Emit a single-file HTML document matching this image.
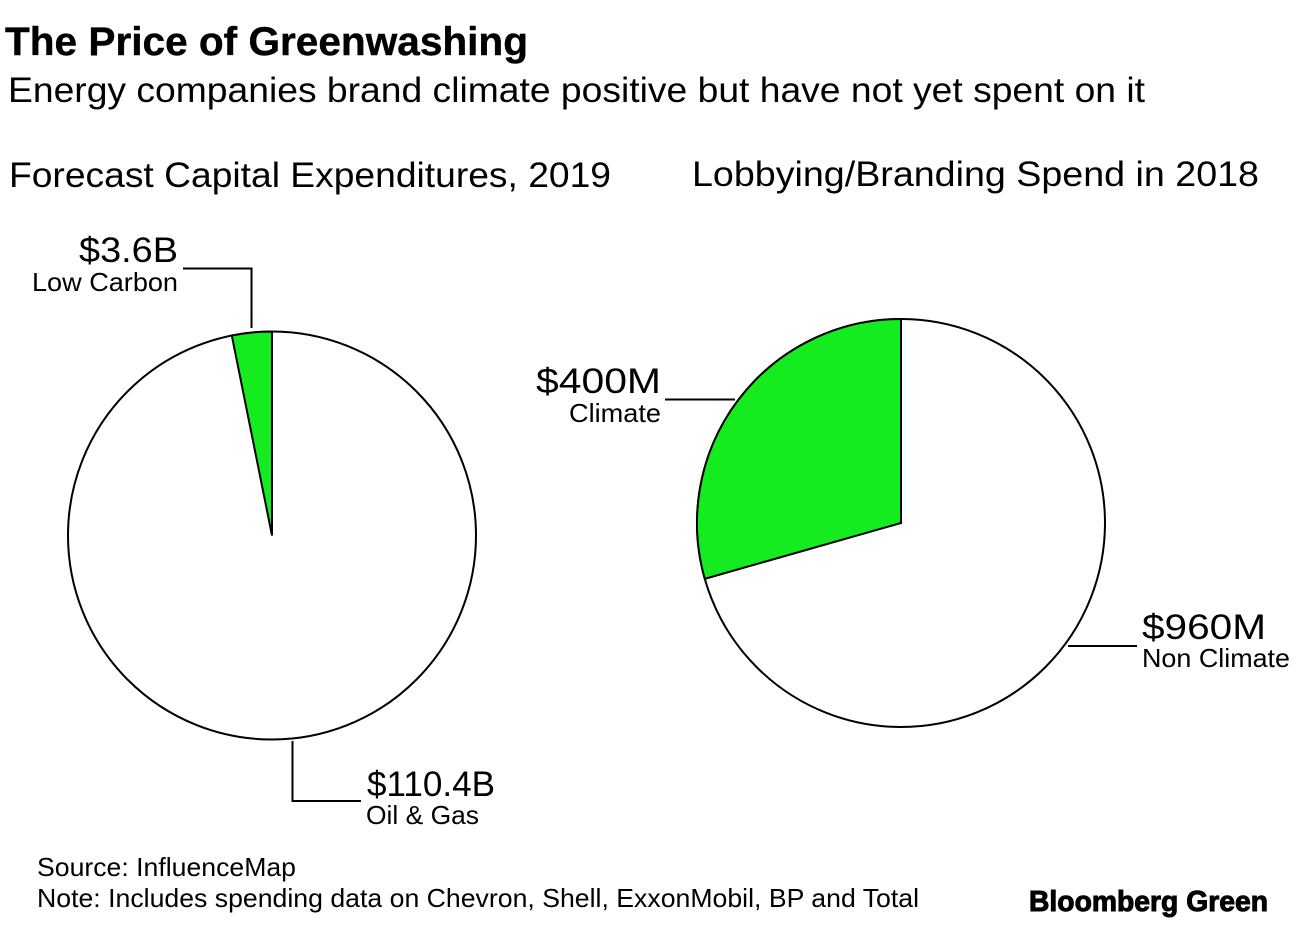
<!DOCTYPE html>
<html lang="en">
<head>
<meta charset="utf-8">
<title>The Price of Greenwashing</title>
<style>
html,body{margin:0;padding:0;background:#fff}
svg{display:block}
text{font-family:"Liberation Sans",Arial,sans-serif;fill:#000}
</style>
</head>
<body>
<svg id="chart" width="1297" height="925" viewBox="0 0 1297 925" xmlns="http://www.w3.org/2000/svg">
  <rect x="0" y="0" width="1297" height="925" fill="#fff"/>
  <text x="5" y="55" font-size="40" font-weight="700" stroke="#000" stroke-width="0.4" textLength="523" lengthAdjust="spacingAndGlyphs">The Price of Greenwashing</text>
  <text x="8" y="102" font-size="35" textLength="1137" lengthAdjust="spacingAndGlyphs">Energy companies brand climate positive but have not yet spent on it</text>
  <text x="9" y="187" font-size="35" textLength="602" lengthAdjust="spacingAndGlyphs">Forecast Capital Expenditures, 2019</text>
  <text x="692" y="186" font-size="35" textLength="567" lengthAdjust="spacingAndGlyphs">Lobbying/Branding Spend in 2018</text>

  <g id="capex-pie"></g>
  <g id="lobbying-pie"></g>

  <polyline points="183,268.500 251.500,268.500 251.500,328" fill="none" stroke="#000" stroke-width="2"/>
  <polyline points="292.500,741 292.500,801 361,801" fill="none" stroke="#000" stroke-width="2"/>
  <line x1="665" y1="399.500" x2="735" y2="399.500" stroke="#000" stroke-width="2"/>
  <line x1="1068" y1="646" x2="1137" y2="646" stroke="#000" stroke-width="2"/>

  <text id="capex-low-value" x="178" y="262" font-size="35" text-anchor="end" textLength="99" lengthAdjust="spacingAndGlyphs"></text>
  <text x="178" y="291" font-size="26" text-anchor="end" textLength="146" lengthAdjust="spacingAndGlyphs">Low Carbon</text>
  <text id="capex-oil-value" x="367" y="796" font-size="35" textLength="128" lengthAdjust="spacingAndGlyphs"></text>
  <text x="366" y="824" font-size="26" textLength="113" lengthAdjust="spacingAndGlyphs">Oil &amp; Gas</text>
  <text id="lobby-climate-value" x="661" y="393" font-size="35" text-anchor="end" textLength="125" lengthAdjust="spacingAndGlyphs"></text>
  <text x="661" y="422" font-size="26" text-anchor="end" textLength="92" lengthAdjust="spacingAndGlyphs">Climate</text>
  <text id="lobby-non-value" x="1142" y="639" font-size="35" textLength="124" lengthAdjust="spacingAndGlyphs"></text>
  <text x="1142" y="667" font-size="26" textLength="148" lengthAdjust="spacingAndGlyphs">Non Climate</text>

  <text x="37" y="876" font-size="26" textLength="259" lengthAdjust="spacingAndGlyphs">Source: InfluenceMap</text>
  <text x="37" y="907" font-size="26" textLength="882" lengthAdjust="spacingAndGlyphs">Note: Includes spending data on Chevron, Shell, ExxonMobil, BP and Total</text>
  <text x="1029" y="911" font-size="29" font-weight="700" stroke="#000" stroke-width="1" textLength="239" lengthAdjust="spacingAndGlyphs">Bloomberg Green</text>
</svg>
<script>
const capexCategories = ['Low Carbon', 'Oil & Gas'];
const capexValues = [3.6, 110.4];
const capexPrinted = ['$3.6B', '$110.4B'];
const lobbyCategories = ['Climate', 'Non Climate'];
const lobbyValues = [400, 960];
const lobbyPrinted = ['$400M', '$960M'];

const SVG_NS = 'http://www.w3.org/2000/svg';
const GREEN = '#15ec1f';

function angleScale(values) {
  const total = values.reduce(function (a, b) { return a + b; }, 0);
  return function (v) { return v / total * Math.PI * 2; };
}

function polar(cx, cy, r, a) {
  return [cx + r * Math.sin(a), cy - r * Math.cos(a)];
}

function drawPie(groupId, categories, values, cx, cy, r) {
  const group = document.getElementById(groupId);
  const toAngle = angleScale(values);

  const disc = document.createElementNS(SVG_NS, 'circle');
  
  
  disc.setAttribute('cx', cx);
  disc.setAttribute('cy', cy);
  disc.setAttribute('r', r);
  disc.setAttribute('fill', '#fff');
  disc.setAttribute('stroke', '#000');
  disc.setAttribute('stroke-width', '2');
  group.appendChild(disc);

  // First category is the highlighted wedge, running counter-clockwise from 12 o'clock.
  const sweep = toAngle(values[0]);
  const end = polar(cx, cy, r, -sweep);
  const large = sweep > Math.PI ? 1 : 0;
  const wedge = document.createElementNS(SVG_NS, 'path');
  
  
  wedge.setAttribute('d', 'M' + cx + ' ' + cy + 'L' + cx + ' ' + (cy - r) +
    'A' + r + ' ' + r + ' 0 ' + large + ' 0 ' + end[0] + ' ' + end[1] + 'Z');
  wedge.setAttribute('fill', GREEN);
  wedge.setAttribute('stroke', '#000');
  wedge.setAttribute('stroke-width', '2');
  wedge.setAttribute('stroke-linejoin', 'miter');
  group.appendChild(wedge);
}

drawPie('capex-pie', capexCategories, capexValues, 272, 535.5, 204);
drawPie('lobbying-pie', lobbyCategories, lobbyValues, 901, 523, 204);

document.getElementById('capex-low-value').textContent = capexPrinted[0];
document.getElementById('capex-oil-value').textContent = capexPrinted[1];
document.getElementById('lobby-climate-value').textContent = lobbyPrinted[0];
document.getElementById('lobby-non-value').textContent = lobbyPrinted[1];
</script>
</body>
</html>
